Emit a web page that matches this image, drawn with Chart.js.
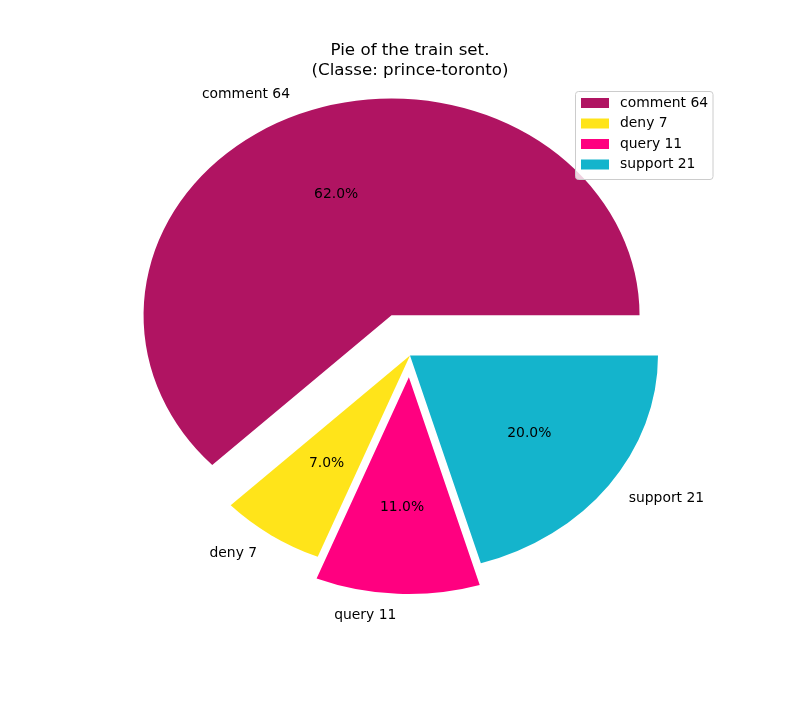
<!DOCTYPE html>
<html><head><meta charset="utf-8">
<script src="https://cdn.jsdelivr.net/npm/chart.js@4"></script>
<style>html,body{margin:0;padding:0;background:#fff}canvas{display:block}</style>
</head><body>
<canvas id="c" width="800" height="704"></canvas>
<script>
const categories = ['comment', 'deny', 'query', 'support'];
const counts = [64, 7, 11, 21];
const pctLabels = ['62.0%', '7.0%', '11.0%', '20.0%'];
const explode = [0.2, 0, 0.1, 0];
const colors = ['#b01462', '#ffe41a', '#ff0080', '#14b4cc'];
const titleLines = ['Pie of the train set.', '(Classe: prince-toronto)'];

const labels = categories.map((c, i) => c + ' ' + counts[i]);
const RY = 216.8, RX = 248, SX = RX / RY;
const FONT = '"DejaVu Sans", sans-serif';

const piePlugin = {
  id: 'pieStyle',
  afterDatasetsUpdate(chart) {
    // explode wedges outward along their mid-angle (matplotlib "explode")
    const meta = chart.getDatasetMeta(0);
    meta.data.forEach((el, i) => {
      const mid = (el.startAngle + el.endAngle) / 2;
      const d = explode[i] * el.outerRadius;
      el.x += Math.cos(mid) * d;
      el.y += Math.sin(mid) * d;
    });
  },
  beforeDatasetsDraw(chart) {
    const ctx = chart.ctx, a = chart.chartArea;
    const cx = (a.left + a.right) / 2, cy = (a.top + a.bottom) / 2;
    ctx.save();
    ctx.translate(cx, cy); ctx.scale(-SX, 1); ctx.translate(-cx, -cy);
  },
  afterDatasetsDraw(chart) {
    const ctx = chart.ctx;
    ctx.restore();
    const a = chart.chartArea;
    const cx = (a.left + a.right) / 2;
    const meta = chart.getDatasetMeta(0);
    ctx.save();
    ctx.fillStyle = '#000';
    ctx.font = '13.9px ' + FONT;
    ctx.textBaseline = 'middle';
    meta.data.forEach((el, i) => {
      const mid = (el.startAngle + el.endAngle) / 2;
      const r = el.outerRadius;
      const pt = (k) => {
        const px = el.x + Math.cos(mid) * k * r;
        const py = el.y + Math.sin(mid) * k * r;
        return [cx - SX * (px - cx), py];
      };
      const [lx, ly] = pt(1.1);
      ctx.textAlign = lx > cx ? 'left' : 'right';
      ctx.fillText(labels[i], lx, ly);
      const [px, py] = pt(0.6);
      ctx.textAlign = 'center';
      ctx.fillText(pctLabels[i], px, py);
    });
    ctx.restore();
  },
  afterDraw(chart) {
    const ctx = chart.ctx;
    ctx.save();
    ctx.fillStyle = '#000';
    ctx.font = '16.7px ' + FONT;
    ctx.textAlign = 'center';
    ctx.textBaseline = 'alphabetic';
    ctx.fillText(titleLines[0], 410, 55);
    ctx.fillText(titleLines[1], 410, 74.5);
    const bx = 575.5, by = 91.5, bw = 137.5, bh = 88, rr = 3;
    ctx.beginPath();
    ctx.moveTo(bx + rr, by);
    ctx.arcTo(bx + bw, by, bx + bw, by + bh, rr);
    ctx.arcTo(bx + bw, by + bh, bx, by + bh, rr);
    ctx.arcTo(bx, by + bh, bx, by, rr);
    ctx.arcTo(bx, by, bx + bw, by, rr);
    ctx.closePath();
    ctx.fillStyle = 'rgba(255,255,255,0.8)';
    ctx.fill();
    ctx.strokeStyle = '#cccccc';
    ctx.lineWidth = 1;
    ctx.stroke();
    ctx.font = '13.9px ' + FONT;
    ctx.textAlign = 'left';
    ctx.textBaseline = 'middle';
    labels.forEach((t, i) => {
      const yc = 103 + i * 20.5;
      ctx.fillStyle = colors[i];
      ctx.fillRect(581, yc - 5, 28, 10);
      ctx.fillStyle = '#000';
      ctx.fillText(t, 620, yc);
    });
    ctx.restore();
  }
};

new Chart(document.getElementById('c'), {
  type: 'pie',
  data: {
    labels: labels,
    datasets: [{
      data: counts,
      backgroundColor: colors,
      borderWidth: 0,
      offset: 0,
      hoverOffset: 0,
      clip: false
    }]
  },
  options: {
    responsive: false,
    animation: false,
    devicePixelRatio: 1,
    events: [],
    rotation: -90,
    radius: RY,
    layout: { padding: { left: 20, right: 0, top: 7.2, bottom: 0 } },
    plugins: { legend: { display: false }, title: { display: false }, tooltip: { enabled: false } }
  },
  plugins: [piePlugin]
});
</script>
</body></html>
